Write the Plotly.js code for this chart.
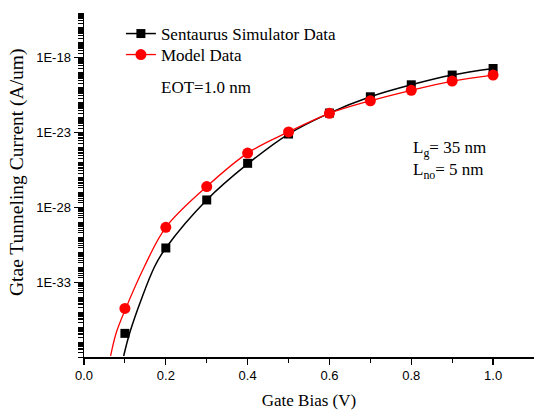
<!DOCTYPE html>
<html>
<head>
<meta charset="utf-8">
<script src="https://cdn.plot.ly/plotly-3.0.1.min.js"></script>
<style>html,body{margin:0;padding:0;background:#fff;}#chart{width:534px;height:410px;}</style>
</head>
<body>
<div id="chart"></div>
<script>
// Gate bias (V) at the data points
var gateBias = [0.1, 0.2, 0.3, 0.4, 0.5, 0.6, 0.7, 0.8, 0.9, 1.0];
// Sentaurus simulator data (A/um)
var simData = [3.8e-37, 1.95e-31, 3.16e-28, 8.9e-26, 8.1e-24, 2.04e-22, 2.5e-21, 1.58e-20, 7.1e-20, 1.95e-19];
// Model data (A/um)
var modelData = [1.78e-35, 4.7e-30, 2.5e-27, 4.3e-25, 1.12e-23, 1.95e-22, 1.35e-21, 6.8e-21, 2.8e-20, 7.1e-20];
// Fitted curve through the simulator data
var simCurveX = [0.097, 0.112, 0.14, 0.173, 0.2, 0.3, 0.4, 0.5, 0.6, 0.7, 0.8, 0.9, 1.0];
var simCurveY = [1.17e-38, 4.3e-37, 7.1e-35, 1.17e-32, 1.95e-31, 3.16e-28, 8.1e-26, 8.1e-24, 2.04e-22, 2.5e-21, 1.58e-20, 7.1e-20, 1.95e-19];
// Fitted curve through the model data
var modelCurveX = [0.065, 0.079, 0.1, 0.148, 0.2, 0.3, 0.4, 0.5, 0.6, 0.7, 0.8, 0.9, 1.0];
var modelCurveY = [1.17e-38, 4.3e-37, 1.3e-35, 1.17e-32, 4.7e-30, 2.5e-27, 4.3e-25, 1.12e-23, 1.95e-22, 1.35e-21, 6.8e-21, 2.8e-20, 7.1e-20];
// Axis tick labels
var yTickVals = [1e-33, 1e-28, 1e-23, 1e-18];
var yTickText = ["1E-33", "1E-28", "1E-23", "1E-18"];
var seriesNames = ["Sentaurus Simulator Data", "Model Data"];

var minorVals = [];
for (var d = -38; d <= -15; d++) {
  for (var k = 1; k <= 9; k++) {
    minorVals.push(k * Math.pow(10, d));
  }
}

var serif = "Liberation Serif, Times New Roman, serif";
var sans = "Liberation Sans, Arial, sans-serif";

var traces = [
  {x: simCurveX, y: simCurveY, mode: "lines", line: {color: "#000", width: 1.5, shape: "spline"}, showlegend: false, hoverinfo: "skip"},
  {x: modelCurveX, y: modelCurveY, mode: "lines", line: {color: "#ff0000", width: 1.3, shape: "spline"}, showlegend: false, hoverinfo: "skip"},
  {x: gateBias, y: simData, mode: "markers", marker: {symbol: "square", size: 9, color: "#000"}, showlegend: false},
  {x: gateBias, y: modelData, mode: "markers", marker: {symbol: "circle", size: 11, color: "#ff0000"}, showlegend: false},
  {x: [null], y: [null], name: seriesNames[0], legend: "legend", mode: "lines+markers", line: {color: "#000", width: 1.5}, marker: {symbol: "square", size: 9, color: "#000"}},
  {x: [null], y: [null], name: seriesNames[1], legend: "legend2", mode: "lines+markers", line: {color: "#ff0000", width: 1.3}, marker: {symbol: "circle", size: 11, color: "#ff0000"}}
];

var legendFont = {family: serif, size: 17, color: "#000"};

var layout = {
  width: 534, height: 410,
  margin: {l: 84, r: 0, t: 13, b: 53},
  paper_bgcolor: "#fff", plot_bgcolor: "#fff",
  showlegend: true,
  legend: {x: 0.082, y: 1 - (34 - 13) / 344, xanchor: "left", yanchor: "middle", bgcolor: "rgba(0,0,0,0)", font: legendFont},
  legend2: {x: 0.082, y: 1 - (55 - 13) / 344, xanchor: "left", yanchor: "middle", bgcolor: "rgba(0,0,0,0)", font: legendFont},
  xaxis: {
    range: [0, 1.1], dtick: 0.2, tick0: 0, tickformat: ".1f",
    showgrid: false, zeroline: false, showline: true, linecolor: "#000", linewidth: 1.5,
    ticks: "outside", ticklen: 6, tickwidth: 1.2, tickcolor: "#000",
    minor: {dtick: 0.1, ticks: "outside", ticklen: 4, tickwidth: 1, tickcolor: "#000"},
    tickfont: {family: sans, size: 13, color: "#000"},
    title: {text: "Gate Bias (V)", font: {family: serif, size: 17, color: "#000"}, standoff: 12}
  },
  yaxis: {
    type: "log", range: [-38, -15],
    tickmode: "array", tickvals: yTickVals, ticktext: yTickText,
    showgrid: false, zeroline: false, showline: true, linecolor: "#000", linewidth: 1.5,
    ticks: "outside", ticklen: 9, tickwidth: 1.2, tickcolor: "#000",
    minor: {tickmode: "array", tickvals: minorVals, ticks: "outside", ticklen: 5, tickwidth: 1, tickcolor: "#000"},
    tickfont: {family: sans, size: 13, color: "#000"}
  },
  annotations: [
    {xref: "paper", yref: "paper", x: (17 - 84) / 450, y: 1 - (172 - 13) / 344, xanchor: "center", yanchor: "middle", textangle: -90, showarrow: false, text: "Gtae Tunneling Current (A/um)", font: {family: serif, size: 19.5, color: "#000"}},
    {xref: "paper", yref: "paper", x: (159 - 84) / 450, y: 1 - (88 - 13) / 344, xanchor: "left", yanchor: "middle", showarrow: false, text: "EOT=1.0 nm", font: {family: serif, size: 17, color: "#000"}},
    {xref: "paper", yref: "paper", x: (411 - 84) / 450, y: 1 - (149 - 13) / 344, xanchor: "left", yanchor: "middle", showarrow: false, text: "L<sub>g</sub>= 35 nm", font: {family: serif, size: 17, color: "#000"}},
    {xref: "paper", yref: "paper", x: (411 - 84) / 450, y: 1 - (171 - 13) / 344, xanchor: "left", yanchor: "middle", showarrow: false, text: "L<sub>no</sub>= 5 nm", font: {family: serif, size: 17, color: "#000"}}
  ]
};

Plotly.newPlot("chart", traces, layout, {displayModeBar: false, staticPlot: true});
</script>
</body>
</html>
